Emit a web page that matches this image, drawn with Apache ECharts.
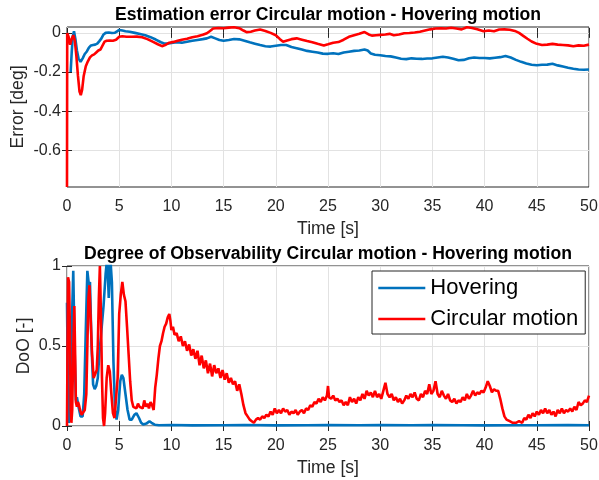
<!DOCTYPE html>
<html><head><meta charset="utf-8">
<script src="https://cdn.jsdelivr.net/npm/echarts@6/dist/echarts.min.js"></script>
<style>html,body{margin:0;padding:0;background:#fff}#c{width:599px;height:480px}</style>
</head><body><div id="c"></div>
<script>
const seriesNames = ['Hovering', 'Circular motion'];
const titles = ['Estimation error Circular motion - Hovering motion', 'Degree of Observability Circular motion - Hovering motion'];
const errTicks = [-0.6, -0.4, -0.2, 0];
const dooTicks = [0, 0.5, 1];

const hoverErr = [[0.35,-0.2],[0.45,-0.1],[0.55,-0.02],[0.67,0.008],[0.8,-0.03],[0.95,-0.09],[1.1,-0.13],[1.3,-0.148],[1.5,-0.13],[1.7,-0.108],[1.9,-0.095],[2.1,-0.075],[2.3,-0.064],[2.5,-0.062],[2.7,-0.06],[2.9,-0.055],[3.1,-0.042],[3.3,-0.028],[3.5,-0.008],[3.7,0.0],[4.0,0.002],[4.3,-0.001],[4.6,0.001],[4.8,0.008],[5.0,0.015],[5.3,0.012],[5.6,0.008],[6.0,0.006],[6.5,0.0],[7.0,-0.006],[7.5,-0.012],[8.0,-0.022],[8.5,-0.034],[9.0,-0.048],[9.3,-0.054],[9.6,-0.055],[10.0,-0.052],[10.5,-0.048],[11.0,-0.05],[11.5,-0.045],[12.0,-0.04],[12.5,-0.036],[13.0,-0.032],[13.4,-0.028],[13.8,-0.02],[14.2,-0.028],[14.6,-0.036],[15.0,-0.04],[15.5,-0.036],[16.0,-0.031],[16.5,-0.033],[17.0,-0.04],[17.5,-0.048],[18.0,-0.055],[18.5,-0.062],[19.0,-0.068],[19.5,-0.07],[20.0,-0.066],[20.5,-0.062],[21.0,-0.062],[21.5,-0.072],[22.0,-0.078],[22.5,-0.085],[23.0,-0.092],[23.5,-0.096],[24.0,-0.1],[24.5,-0.106],[25.0,-0.107],[25.5,-0.104],[26.0,-0.108],[26.5,-0.1],[27.0,-0.096],[27.5,-0.092],[28.0,-0.09],[28.5,-0.085],[28.8,-0.09],[29.1,-0.105],[29.5,-0.112],[30.0,-0.114],[30.5,-0.118],[31.0,-0.12],[31.5,-0.126],[32.0,-0.132],[32.5,-0.134],[33.0,-0.13],[33.5,-0.132],[34.0,-0.133],[34.5,-0.131],[35.0,-0.13],[35.5,-0.126],[36.0,-0.122],[36.5,-0.126],[37.0,-0.132],[37.5,-0.14],[38.0,-0.138],[38.5,-0.13],[39.0,-0.126],[39.5,-0.128],[40.0,-0.128],[40.5,-0.13],[41.0,-0.127],[41.5,-0.124],[42.0,-0.118],[42.5,-0.126],[43.0,-0.138],[43.5,-0.148],[44.0,-0.156],[44.5,-0.163],[45.0,-0.165],[45.5,-0.163],[46.0,-0.162],[46.5,-0.158],[47.0,-0.166],[47.5,-0.172],[48.0,-0.178],[48.5,-0.183],[49.0,-0.187],[49.5,-0.188],[50.0,-0.187]];

const circErr = [[0,-0.787],[0.02,-0.002],[0.15,-0.02],[0.3,-0.06],[0.45,-0.03],[0.6,-0.012],[0.75,-0.04],[0.9,-0.12],[1.05,-0.22],[1.2,-0.3],[1.32,-0.318],[1.45,-0.29],[1.6,-0.22],[1.8,-0.17],[2.0,-0.145],[2.2,-0.125],[2.4,-0.115],[2.6,-0.11],[2.8,-0.1],[3.0,-0.09],[3.2,-0.085],[3.4,-0.065],[3.6,-0.045],[3.8,-0.04],[4.1,-0.039],[4.4,-0.04],[4.7,-0.035],[5.0,-0.02],[5.3,-0.017],[5.7,-0.02],[6.2,-0.02],[6.7,-0.019],[7.2,-0.022],[7.7,-0.032],[8.2,-0.045],[8.7,-0.058],[9.1,-0.068],[9.4,-0.062],[9.8,-0.05],[10.2,-0.046],[10.6,-0.04],[11.0,-0.035],[11.5,-0.03],[12.0,-0.022],[12.5,-0.017],[13.0,-0.01],[13.4,-0.002],[13.7,0.01],[14.0,0.022],[14.5,0.025],[15.0,0.024],[15.5,0.027],[16.0,0.029],[16.5,0.024],[16.9,0.012],[17.2,0.004],[17.6,0.006],[18.0,0.012],[18.5,0.017],[19.0,0.01],[19.5,0.0],[20.0,-0.012],[20.4,-0.032],[20.7,-0.045],[21.0,-0.04],[21.5,-0.032],[22.0,-0.028],[22.5,-0.035],[23.0,-0.042],[23.5,-0.048],[24.0,-0.056],[24.6,-0.064],[25.0,-0.058],[25.5,-0.05],[26.0,-0.047],[26.5,-0.035],[27.0,-0.02],[27.5,-0.012],[28.0,-0.005],[28.5,0.004],[28.9,-0.008],[29.2,-0.014],[29.6,-0.012],[30.0,-0.01],[30.5,-0.008],[30.9,-0.005],[31.3,-0.012],[31.8,-0.008],[32.3,-0.002],[32.8,-0.001],[33.3,0.002],[33.8,0.006],[34.3,0.012],[34.8,0.018],[35.3,0.022],[35.8,0.024],[36.3,0.022],[36.8,0.026],[37.3,0.022],[37.8,0.018],[38.3,0.029],[38.8,0.025],[39.3,0.018],[39.9,0.008],[40.4,0.012],[40.9,0.008],[41.4,0.017],[41.9,0.018],[42.4,0.016],[42.9,0.01],[43.3,0.0],[43.7,-0.015],[44.1,-0.03],[44.5,-0.044],[45.0,-0.056],[45.5,-0.062],[46.0,-0.06],[46.5,-0.056],[47.0,-0.06],[47.5,-0.062],[48.0,-0.064],[48.5,-0.068],[49.0,-0.064],[49.5,-0.066],[50.0,-0.06]];

const hoverDoO = [[0,0.77],[0.08,0.3],[0.15,0.02],[0.3,0.05],[0.45,0.6],[0.6,0.97],[0.72,0.5],[0.85,0.16],[0.95,0.18],[1.1,0.12],[1.3,0.06],[1.5,0.06],[1.65,0.2],[1.8,0.6],[1.95,0.97],[2.1,0.88],[2.2,0.9],[2.35,0.5],[2.5,0.26],[2.65,0.23],[2.8,0.25],[2.95,0.3],[3.1,0.45],[3.3,0.6],[3.5,0.75],[3.7,0.95],[3.85,1.05],[4.0,0.8],[4.15,1.05],[4.3,0.9],[4.45,0.4],[4.6,0.1],[4.75,0.04],[4.9,0.1],[5.1,0.28],[5.25,0.32],[5.4,0.3],[5.6,0.2],[5.8,0.1],[6.0,0.04],[6.2,0.04],[6.45,0.07],[6.65,0.08],[6.9,0.05],[7.1,0.02],[7.3,0.01],[7.6,0.015],[7.9,0.03],[8.1,0.02],[8.4,0.008],[8.8,0.005],[10,0.006],[12,0.004],[15,0.005],[17,0.006],[20,0.004],[23,0.005],[25,0.006],[28,0.005],[30,0.006],[33,0.005],[35,0.006],[38,0.005],[40,0.004],[43,0.005],[45,0.005],[48,0.006],[50,0.005]];

const circDoO = [[0,0.0],[0.05,0.5],[0.1,0.93],[0.2,0.9],[0.28,0.6],[0.35,0.1],[0.42,0.02],[0.5,0.1],[0.6,0.5],[0.7,0.75],[0.78,0.45],[0.85,0.15],[0.95,0.12],[1.05,0.15],[1.15,0.13],[1.25,0.1],[1.4,0.07],[1.55,0.07],[1.7,0.1],[1.85,0.2],[1.95,0.5],[2.05,0.8],[2.15,0.88],[2.25,0.7],[2.4,0.45],[2.55,0.3],[2.7,0.3],[2.85,0.35],[2.95,0.5],[3.05,0.8],[3.15,1.0],[3.25,0.7],[3.35,0.3],[3.45,0.05],[3.55,0.0],[3.65,0.08],[3.8,0.3],[3.95,0.38],[4.1,0.34],[4.25,0.2],[4.4,0.08],[4.55,0.05],[4.7,0.06],[4.85,0.3],[5.0,0.7],[5.15,0.82],[5.3,0.9],[5.45,0.82],[5.6,0.78],[5.75,0.62],[5.9,0.45],[6.05,0.28],[6.2,0.16],[6.35,0.12],[6.5,0.13],[6.65,0.11],[6.8,0.14],[6.95,0.12],[7.1,0.13],[7.25,0.11],[7.4,0.16],[7.55,0.12],[7.7,0.14],[7.85,0.11],[8.0,0.15],[8.15,0.13],[8.3,0.1],[8.45,0.24],[8.6,0.32],[8.75,0.42],[8.9,0.5],[9.05,0.53],[9.2,0.58],[9.35,0.62],[9.5,0.64],[9.65,0.68],[9.8,0.7],[9.9,0.66],[10.0,0.6],[10.15,0.62],[10.3,0.57],[10.5,0.58],[10.7,0.53],[10.9,0.56],[11.1,0.5],[11.3,0.53],[11.5,0.47],[11.7,0.51],[11.9,0.44],[12.1,0.48],[12.3,0.42],[12.5,0.47],[12.7,0.38],[12.9,0.44],[13.1,0.36],[13.3,0.41],[13.5,0.33],[13.7,0.39],[13.9,0.31],[14.1,0.38],[14.3,0.33],[14.5,0.36],[14.7,0.3],[14.9,0.35],[15.1,0.29],[15.3,0.33],[15.5,0.27],[15.7,0.3],[15.9,0.26],[16.1,0.28],[16.3,0.22],[16.5,0.26],[16.7,0.2],[16.9,0.13],[17.1,0.08],[17.3,0.06],[17.5,0.04],[17.7,0.03],[17.9,0.02],[18.1,0.04],[18.3,0.05],[18.5,0.04],[18.7,0.06],[18.9,0.05],[19.1,0.07],[19.3,0.06],[19.5,0.09],[19.7,0.07],[19.9,0.11],[20.1,0.08],[20.3,0.1],[20.5,0.08],[20.7,0.11],[20.9,0.09],[21.1,0.1],[21.3,0.07],[21.5,0.09],[21.7,0.08],[21.9,0.1],[22.1,0.07],[22.3,0.09],[22.5,0.1],[22.7,0.08],[22.9,0.11],[23.1,0.1],[23.3,0.13],[23.5,0.12],[23.7,0.15],[23.9,0.14],[24.1,0.17],[24.3,0.15],[24.5,0.18],[24.7,0.16],[24.9,0.19],[25.0,0.25],[25.1,0.18],[25.3,0.17],[25.5,0.19],[25.7,0.16],[25.9,0.17],[26.1,0.15],[26.3,0.16],[26.5,0.13],[26.7,0.15],[26.9,0.13],[27.1,0.18],[27.3,0.15],[27.5,0.17],[27.7,0.14],[27.9,0.18],[28.1,0.16],[28.3,0.2],[28.5,0.17],[28.7,0.22],[28.9,0.19],[29.1,0.21],[29.3,0.18],[29.5,0.22],[29.7,0.18],[29.9,0.2],[30.1,0.17],[30.3,0.22],[30.5,0.27],[30.7,0.2],[30.9,0.18],[31.1,0.2],[31.3,0.16],[31.5,0.18],[31.7,0.15],[31.9,0.17],[32.1,0.14],[32.3,0.16],[32.5,0.19],[32.7,0.17],[32.9,0.2],[33.1,0.18],[33.3,0.21],[33.5,0.17],[33.7,0.16],[33.9,0.2],[34.1,0.18],[34.3,0.22],[34.5,0.2],[34.7,0.26],[34.9,0.2],[35.1,0.22],[35.3,0.28],[35.5,0.2],[35.7,0.18],[35.9,0.22],[36.1,0.19],[36.3,0.17],[36.5,0.2],[36.7,0.16],[36.9,0.15],[37.1,0.17],[37.3,0.14],[37.5,0.16],[37.7,0.15],[37.9,0.18],[38.1,0.16],[38.3,0.2],[38.5,0.17],[38.7,0.19],[38.9,0.22],[39.1,0.19],[39.3,0.21],[39.5,0.2],[39.7,0.22],[39.9,0.21],[40.1,0.24],[40.3,0.28],[40.5,0.25],[40.7,0.21],[40.9,0.23],[41.1,0.22],[41.3,0.22],[41.5,0.17],[41.7,0.11],[41.9,0.06],[42.1,0.04],[42.4,0.03],[42.7,0.02],[43.0,0.02],[43.3,0.03],[43.6,0.02],[43.8,0.05],[44.0,0.04],[44.2,0.07],[44.4,0.05],[44.6,0.08],[44.8,0.06],[45.0,0.09],[45.2,0.07],[45.4,0.1],[45.6,0.08],[45.8,0.11],[46.0,0.08],[46.2,0.1],[46.4,0.07],[46.6,0.09],[46.8,0.06],[47.0,0.1],[47.2,0.08],[47.4,0.11],[47.6,0.08],[47.8,0.1],[48.0,0.09],[48.2,0.11],[48.4,0.09],[48.6,0.12],[48.8,0.1],[49.0,0.15],[49.2,0.13],[49.4,0.14],[49.6,0.16],[49.8,0.15],[50.0,0.19]];

const FONT = 'Liberation Sans';
const AX = '#262626';
const GRIDC = '#e2e2e2';
const LW = 2.6;

function xAx(grid, pos, show) {
  return {
    type: 'value', gridIndex: grid, position: pos, min: 0, max: 50, interval: 5,
    name: show ? 'Time [s]' : '', nameLocation: 'middle', nameGap: 33, nameMoveOverlap: false,
    nameTextStyle: { fontFamily: FONT, fontSize: 17.6, color: AX },
    axisLine: { show: false },
    axisTick: { show: true, inside: true, length: 5, lineStyle: { color: AX } },
    axisLabel: { show: show, margin: 12, fontFamily: FONT, fontSize: 16, color: AX },
    splitLine: { show: show, lineStyle: { color: GRIDC, width: 1 } }
  };
}
function yAx(grid, pos, show, min, max, ticks, name, gap) {
  return {
    type: 'value', gridIndex: grid, position: pos, min: min, max: max,
    name: show ? name : '', nameLocation: 'middle', nameGap: gap, nameMoveOverlap: false,
    nameTextStyle: { fontFamily: FONT, fontSize: 17.6, color: AX },
    axisLine: { show: false },
    axisTick: { show: true, inside: true, length: 5, lineStyle: { color: AX }, customValues: ticks },
    axisLabel: { show: show, margin: 6, fontFamily: FONT, fontSize: 16, color: AX, customValues: ticks, formatter: v => String(v) },
    splitLine: { show: show, lineStyle: { color: GRIDC, width: 1 } }
  };
}
function ser(name, data, xi, yi, color, z) {
  return { type: 'line', name: name, data: data, xAxisIndex: xi, yAxisIndex: yi, showSymbol: false, symbol: 'none',
    lineStyle: { color: color, width: LW }, itemStyle: { color: color }, animation: false, z: z, clip: true };
}

const chart = echarts.init(document.getElementById('c'), null, { renderer: 'canvas' });
chart.setOption({
  animation: false,
  backgroundColor: '#fff',
  title: [
    { text: titles[0], left: 328, top: 6, textAlign: 'center', padding: 0, textStyle: { fontFamily: FONT, fontSize: 17.6, fontWeight: 'bold', color: '#000' } },
    { text: titles[1], left: 328, top: 245, textAlign: 'center', padding: 0, textStyle: { fontFamily: FONT, fontSize: 17.6, fontWeight: 'bold', color: '#000' } }
  ],
  grid: [
    { left: 67, right: 10, top: 27, height: 160, show: true, borderColor: AX, borderWidth: 1, backgroundColor: 'transparent', containLabel: false, outerBoundsMode: 'none' },
    { left: 67, right: 10, top: 266, height: 160, show: true, borderColor: AX, borderWidth: 1, backgroundColor: 'transparent', containLabel: false, outerBoundsMode: 'none' }
  ],
  legend: {
    data: seriesNames, orient: 'vertical', left: 372, top: 271,
    padding: [6, 7, 4, 5], itemGap: 9, itemWidth: 47, itemHeight: 22,
    backgroundColor: '#fff', borderColor: AX, borderWidth: 1, borderRadius: 0,
    textStyle: { fontFamily: FONT, fontSize: 22, color: '#000' },
    itemStyle: { opacity: 0 },
    lineStyle: { width: LW },
    selectedMode: false
  },
  xAxis: [xAx(0, 'bottom', true), xAx(0, 'top', false), xAx(1, 'bottom', true), xAx(1, 'top', false)],
  yAxis: [
    yAx(0, 'left', true, -0.787, 0.03, errTicks, 'Error [deg]', 40),
    yAx(0, 'right', false, -0.787, 0.03, errTicks, '', 0),
    yAx(1, 'left', true, 0, 1, dooTicks, 'DoO [-]', 34),
    yAx(1, 'right', false, 0, 1, dooTicks, '', 0)
  ],
  series: [
    ser(seriesNames[0], hoverErr, 0, 0, '#0072BD', 2),
    ser(seriesNames[1], circErr, 0, 0, '#FF0000', 3),
    ser(seriesNames[0], hoverDoO, 2, 2, '#0072BD', 2),
    ser(seriesNames[1], circDoO, 2, 2, '#FF0000', 3)
  ]
});
</script>
</body></html>
